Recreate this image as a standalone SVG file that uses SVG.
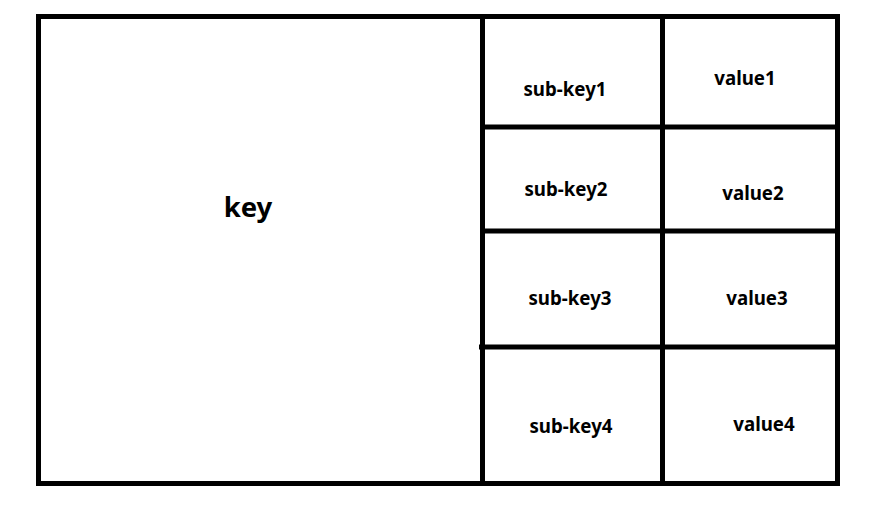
<svg xmlns="http://www.w3.org/2000/svg" width="886" height="525" viewBox="0 0 886 525">
<style>
.ln{stroke:#000;stroke-width:5;fill:none}
.t{font-family:"Noto Sans","Open Sans","DejaVu Sans",sans-serif;font-weight:bold;fill:#000;text-anchor:middle}
.s{font-size:18.7px}
.k{font-size:27.5px}
</style>
<rect width="886" height="525" fill="#fff"/>
<g id="connectors">
<rect class="ln" x="38.5" y="16.5" width="799" height="467"/>
<line class="ln" x1="482.5" y1="16.5" x2="482.5" y2="483.5"/>
<line class="ln" x1="662.5" y1="16.5" x2="662.5" y2="483.5"/>
<line class="ln" x1="482.5" y1="127" x2="837.5" y2="127"/>
<line class="ln" x1="482.5" y1="231" x2="837.5" y2="231"/>
<line class="ln" x1="479" y1="347" x2="837.5" y2="347"/>
</g>
<g id="key"><text class="t k" x="248" y="217">key</text></g>
<g id="sub-key1"><text class="t s" x="565" y="96">sub-key1</text></g>
<g id="value1"><text class="t s" x="745" y="85">value1</text></g>
<g id="sub-key2"><text class="t s" x="566" y="196">sub-key2</text></g>
<g id="value2"><text class="t s" x="753" y="200">value2</text></g>
<g id="sub-key3"><text class="t s" x="570" y="305">sub-key3</text></g>
<g id="value3"><text class="t s" x="757" y="305">value3</text></g>
<g id="sub-key4"><text class="t s" x="571" y="433">sub-key4</text></g>
<g id="value4"><text class="t s" x="764" y="431">value4</text></g>
</svg>
